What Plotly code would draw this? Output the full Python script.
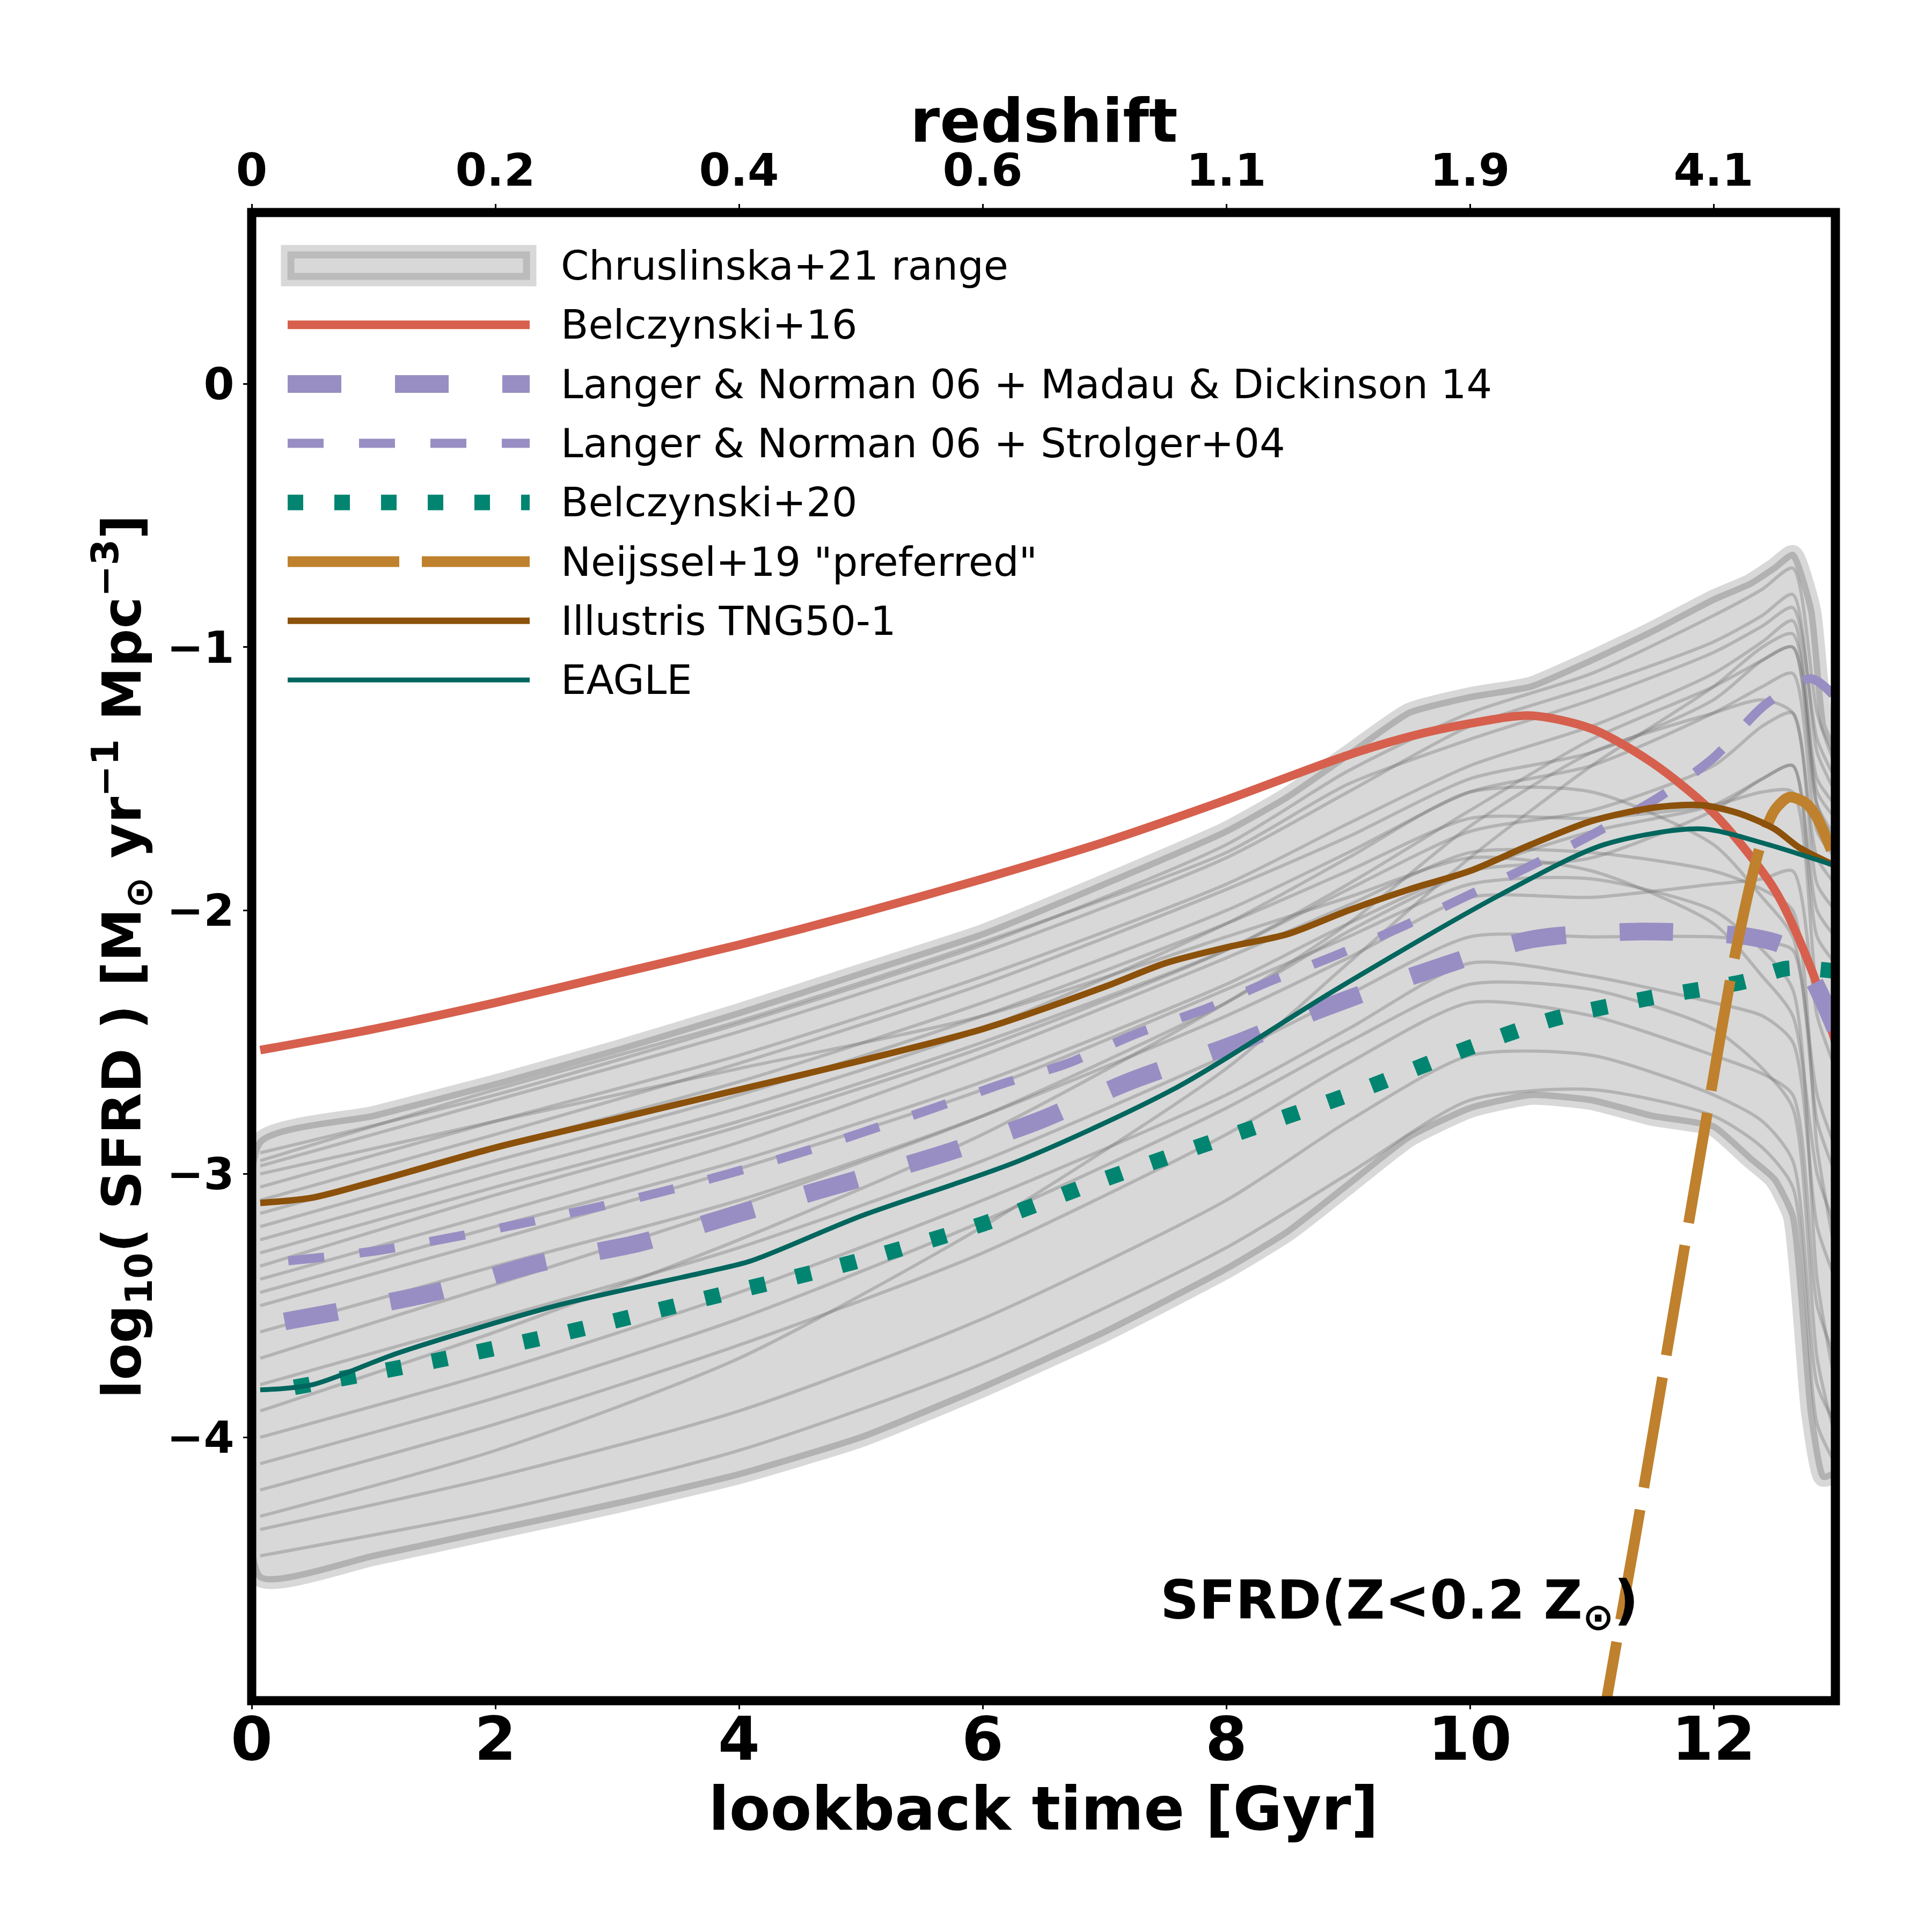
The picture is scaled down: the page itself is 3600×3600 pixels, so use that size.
import plotly.graph_objects as go

# axis ticks: lookback time [Gyr] and the redshift shown on the top axis
TICK_T = [0, 2, 4, 6, 8, 10, 12]
REDSHIFT_LABELS = ["0", "0.2", "0.4", "0.6", "1.1", "1.9", "4.1"]
Y_TICKS = [0, -1, -2, -3, -4]

# Chruslinska+21 range (envelope of all variations)
ENV_T = [0.07, 1, 2, 3, 4, 5, 6, 7, 8, 8.5, 9, 9.5, 10, 10.5, 11, 11.5, 12, 12.3, 12.5, 12.65, 12.8, 12.9, 13.0]
ENV_HI = [-2.88, -2.78, -2.66, -2.53, -2.39, -2.24, -2.09, -1.90, -1.70, -1.57, -1.41, -1.25, -1.19, -1.15,
          -1.05, -0.94, -0.82, -0.76, -0.70, -0.65, -0.86, -1.30, -1.41]
ENV_LO = [-4.53, -4.45, -4.35, -4.25, -4.14, -4.00, -3.81, -3.60, -3.36, -3.22, -3.04, -2.86, -2.75, -2.70,
          -2.72, -2.78, -2.82, -2.94, -3.02, -3.16, -3.91, -4.15, -4.13]

# a selection of the individual Chruslinska+21 variations
GRAY_T = [0.07, 2, 4, 6, 8, 9, 10, 11, 12, 12.4, 12.65, 12.85, 13.0]
GRAY_LINES = [
    [-2.92, -2.70, -2.43, -2.13, -1.75, -1.47, -1.25, -1.10, -0.88, -0.78, -0.70, -1.25, -1.45],
    [-2.97, -2.72, -2.46, -2.16, -1.80, -1.55, -1.30, -1.15, -0.98, -0.88, -0.80, -1.40, -1.55],
    [-3.05, -2.80, -2.55, -2.25, -1.90, -1.67, -1.45, -1.30, -1.10, -0.98, -0.90, -1.55, -1.65],
    [-3.15, -2.90, -2.65, -2.35, -2.00, -1.78, -1.55, -1.45, -1.25, -1.15, -1.10, -1.70, -1.80],
    [-3.30, -3.05, -2.80, -2.50, -2.15, -1.92, -1.70, -1.62, -1.45, -1.30, -1.25, -1.90, -2.00],
    [-3.45, -3.20, -2.95, -2.65, -2.28, -2.05, -1.85, -1.80, -1.62, -1.50, -1.45, -2.10, -2.20],
    [-3.60, -3.35, -3.10, -2.78, -2.40, -2.18, -1.95, -1.95, -1.90, -1.88, -1.85, -2.40, -2.60],
    [-3.80, -3.55, -3.28, -2.95, -2.55, -2.32, -2.10, -2.10, -2.10, -2.12, -2.15, -2.80, -3.00],
    [-4.00, -3.75, -3.45, -3.10, -2.70, -2.45, -2.20, -2.25, -2.35, -2.40, -2.50, -3.20, -3.40],
    [-4.20, -3.95, -3.65, -3.30, -2.85, -2.58, -2.35, -2.40, -2.55, -2.62, -2.70, -3.50, -3.70],
    [-4.35, -4.15, -3.90, -3.55, -3.10, -2.80, -2.55, -2.55, -2.70, -2.80, -2.95, -3.80, -3.95],
    [-4.45, -4.28, -4.05, -3.72, -3.28, -3.00, -2.72, -2.68, -2.78, -2.90, -3.05, -3.95, -4.10],
    [-4.30, -4.05, -3.70, -3.20, -2.60, -2.20, -1.80, -1.45, -1.15, -1.00, -0.95, -1.50, -1.60],
    [-3.00, -2.80, -2.60, -2.40, -2.10, -1.95, -1.80, -1.85, -2.05, -2.25, -2.40, -3.00, -3.20],
    [-3.90, -3.60, -3.25, -2.85, -2.35, -2.05, -1.68, -1.40, -1.25, -1.20, -1.25, -1.80, -1.90],
    [-3.25, -3.00, -2.75, -2.45, -2.05, -1.80, -1.55, -1.55, -1.75, -1.95, -2.10, -2.70, -2.90],
    [-2.95, -2.68, -2.42, -2.12, -1.78, -1.52, -1.35, -1.20, -1.02, -0.92, -0.85, -1.35, -1.50],
    [-3.10, -2.85, -2.58, -2.28, -1.92, -1.72, -1.50, -1.40, -1.20, -1.05, -1.00, -1.60, -1.72],
    [-3.20, -2.95, -2.70, -2.40, -2.05, -1.85, -1.65, -1.65, -1.60, -1.55, -1.55, -2.30, -2.50],
    [-3.40, -3.15, -2.88, -2.55, -2.18, -1.98, -1.78, -1.78, -1.85, -1.92, -2.00, -2.90, -3.30],
    [-3.50, -3.25, -2.98, -2.68, -2.30, -2.10, -1.90, -1.88, -2.00, -2.15, -2.30, -3.40, -3.80],
    [-3.70, -3.42, -3.12, -2.78, -2.35, -2.08, -1.85, -1.70, -1.60, -1.50, -1.45, -2.00, -2.10],
    [-4.10, -3.85, -3.55, -3.18, -2.75, -2.50, -2.28, -2.30, -2.45, -2.60, -2.75, -3.70, -4.00],
    [-3.35, -3.08, -2.82, -2.52, -2.15, -1.90, -1.62, -1.35, -1.15, -1.05, -1.00, -1.60, -1.75],
]

# Belczynski+16
B16_T = [0.07, 1, 2, 3, 4, 5, 6, 7, 8, 9, 9.5, 10, 10.5, 11, 11.5, 12, 12.5, 12.8, 13.0]
B16_Y = [-2.53, -2.45, -2.35, -2.24, -2.13, -2.01, -1.88, -1.74, -1.58, -1.41, -1.34, -1.29, -1.26, -1.31,
         -1.44, -1.63, -1.92, -2.22, -2.50]

# Langer & Norman 06 + Madau & Dickinson 14
MD14_T = [0.27, 1.5, 2.35, 3.2, 4.0, 4.9, 5.7, 6.45, 7.2, 8.05, 8.8, 9.65, 10.5, 11.4, 12.3, 12.6, 12.8, 13.0]
MD14_Y = [-3.56, -3.45, -3.34, -3.26, -3.15, -3.03, -2.92, -2.80, -2.65, -2.51, -2.37, -2.23, -2.11, -2.08,
          -2.10, -2.14, -2.25, -2.45]

# Langer & Norman 06 + Strolger+04
S04_T = [0.3, 1.05, 2.2, 3.35, 4.5, 5.6, 6.15, 6.7, 7.25, 7.85, 8.35, 8.9, 9.45, 9.95, 10.5, 11.05, 11.55,
         12.0, 12.42, 12.8, 13.0]
S04_Y = [-3.33, -3.29, -3.19, -3.07, -2.92, -2.75, -2.66, -2.58, -2.47, -2.37, -2.27, -2.17, -2.06, -1.95,
         -1.83, -1.70, -1.57, -1.42, -1.22, -1.12, -1.19]

# Belczynski+20
B20_T = [0.35, 1.5, 2.6, 3.75, 4.9, 6.0, 7.0, 8.0, 9.0, 10.0, 10.7, 11.5, 12.25, 12.6, 13.0]
B20_Y = [-3.81, -3.71, -3.60, -3.47, -3.34, -3.19, -3.02, -2.86, -2.70, -2.52, -2.41, -2.33, -2.27, -2.22, -2.23]

# Neijssel+19 "preferred"
N19_T = [10.7, 11.12, 11.35, 11.6, 12.0, 12.18, 12.38, 12.5, 12.62, 12.75, 12.84, 13.0]
N19_Y = [-6.2, -5.0, -4.40, -3.72, -2.63, -2.16, -1.76, -1.62, -1.57, -1.59, -1.64, -1.81]

# Illustris TNG50-1
TNG_T = [0.07, 0.5, 1, 2, 3, 4, 5, 6, 7, 7.5, 8, 8.5, 9, 9.5, 10, 10.5, 11, 11.5, 11.9, 12.2, 12.5, 12.7, 13.0]
TNG_Y = [-3.11, -3.09, -3.03, -2.90, -2.79, -2.68, -2.57, -2.45, -2.29, -2.20, -2.14, -2.09, -2.00, -1.92,
         -1.85, -1.75, -1.66, -1.61, -1.60, -1.63, -1.69, -1.76, -1.83]

# EAGLE
EAGLE_T = [0.07, 0.5, 1.2, 2.5, 3.75, 4.1, 5, 6.3, 7.6, 8.9, 10.25, 11.1, 11.9, 12.45, 12.8, 13.0]
EAGLE_Y = [-3.82, -3.80, -3.68, -3.50, -3.37, -3.33, -3.16, -2.95, -2.67, -2.30, -1.94, -1.75, -1.69, -1.75,
           -1.80, -1.83]

NAMES = ["Chruslinska+21 range", "Belczynski+16", "Langer &amp; Norman 06 + Madau &amp; Dickinson 14",
         "Langer &amp; Norman 06 + Strolger+04", "Belczynski+20", 'Neijssel+19 "preferred"',
         "Illustris TNG50-1", "EAGLE"]

# styles (colour, width px, dash)
STYLES = [
    None,
    ("#d6604d", 16, "solid"),
    ("#998ec3", 33, "100px,100px"),
    ("#998ec3", 17, "67px,66px"),
    ("#018571", 29, "29px,58px"),
    ("#bf812d", 20, "208px,42px"),
    ("#8c510a", 12, "solid"),
    ("#01665e", 9, "solid"),
]

FONT = "DejaVu Sans"
OFF = 8  # default body margin of the page
W = H = 3600 - OFF
L, R, T, B = 469, 3420, 396, 3169  # plot box in screen pixels


def px_x(p):
    return (p - L) / (R - L)


def px_y(p):
    return (B - p) / (B - T)


fig = go.Figure()

# band
band_x = ENV_T + ENV_T[::-1] + [ENV_T[0]]
band_y = ENV_HI + ENV_LO[::-1] + [ENV_HI[0]]
fig.add_trace(go.Scatter(x=band_x, y=band_y, mode="lines", fill="toself", fillcolor="rgb(216,216,216)",
                         line=dict(color="rgb(216,216,216)", width=37, shape="spline", smoothing=0.5),
                         hoverinfo="skip", showlegend=False))
fig.add_trace(go.Scatter(x=band_x, y=band_y, mode="lines",
                         line=dict(color="rgb(178,178,178)", width=12, shape="spline", smoothing=0.5),
                         hoverinfo="skip", showlegend=False))
for g in GRAY_LINES:
    fig.add_trace(go.Scatter(x=GRAY_T, y=g, mode="lines",
                             line=dict(color="rgba(115,115,115,0.36)", width=6, shape="spline", smoothing=0.7),
                             hoverinfo="skip", showlegend=False))

curves = [(B16_T, B16_Y), (MD14_T, MD14_Y), (S04_T, S04_Y), (B20_T, B20_Y), (N19_T, N19_Y),
          (TNG_T, TNG_Y), (EAGLE_T, EAGLE_Y)]
for (xs, ys), st, name in zip(curves, STYLES[1:], NAMES[1:]):
    col, wid, dash = st
    fig.add_trace(go.Scatter(x=xs, y=ys, mode="lines", name=name,
                             line=dict(color=col, width=wid, dash=dash, shape="spline", smoothing=0.8),
                             showlegend=False))

# dummy trace for the redshift axis
fig.add_trace(go.Scatter(x=[0, 13], y=[-5, -5], xaxis="x2", mode="lines", opacity=0,
                         hoverinfo="skip", showlegend=False))

shapes = [dict(type="rect", xref="paper", yref="paper", x0=0, x1=1, y0=0, y1=1,
               line=dict(color="black", width=17), layer="above")]
annotations = []

# legend drawn by hand (handles are long in the original)
row0, dy = 495, 110.3
hx0, hx1 = 536, 987
for i, (name, st) in enumerate(zip(NAMES, STYLES)):
    yc = row0 + i * dy
    if st is None:
        for lw, col in ((37, "rgb(216,216,216)"), (13, "rgb(187,187,187)")):
            shapes.append(dict(type="rect", xref="paper", yref="paper",
                               x0=px_x(hx0 + 6), x1=px_x(hx1 - 6), y0=px_y(yc - 20), y1=px_y(yc + 20),
                               fillcolor="rgb(216,216,216)", line=dict(color=col, width=lw), layer="above"))
    else:
        col, wid, dash = st
        shapes.append(dict(type="line", xref="paper", yref="paper", x0=px_x(hx0), x1=px_x(hx1),
                           y0=px_y(yc), y1=px_y(yc), line=dict(color=col, width=wid, dash=dash),
                           layer="above"))
    annotations.append(dict(text=name, xref="paper", yref="paper", x=px_x(1043), y=px_y(yc),
                            xanchor="left", yanchor="middle", showarrow=False,
                            font=dict(family=FONT, size=75, color="black")))

annotations.append(dict(text="SFRD(Z&lt;0.2 Z<sub>⊙</sub>)", xref="paper", yref="paper",
                        x=px_x(2160), y=px_y(2988), xanchor="left", yanchor="middle", showarrow=False,
                        font=dict(family=FONT, size=100, color="black", weight="bold")))

# top axis title
annotations.append(dict(text="redshift", xref="paper", yref="paper", x=0.5, y=px_y(225),
                        xanchor="center", yanchor="middle", showarrow=False,
                        font=dict(family=FONT, size=112, color="black", weight="bold")))

axis_common = dict(showgrid=False, zeroline=False, showline=False, ticks="outside", ticklen=15,
                   tickwidth=3, tickcolor="black")

fig.update_layout(
    width=W, height=H,
    margin=dict(l=L - OFF, r=W + OFF - R, t=T - OFF, b=H + OFF - B),
    paper_bgcolor="white", plot_bgcolor="white",
    showlegend=False,
    xaxis=dict(range=[0, 13], tickvals=TICK_T, ticklabelstandoff=-40,
               tickfont=dict(family=FONT, size=112, color="black", weight="bold"),
               title=dict(text="lookback time [Gyr]", standoff=25,
                          font=dict(family=FONT, size=112, color="black", weight="bold")),
               **axis_common),
    xaxis2=dict(range=[0, 13], overlaying="x", side="top", tickvals=TICK_T, ticktext=REDSHIFT_LABELS,
                tickfont=dict(family=FONT, size=84, color="black", weight="bold"),
                **axis_common),
    yaxis=dict(range=[-5, 0.65], tickvals=Y_TICKS,
               tickfont=dict(family=FONT, size=82, color="black", weight="bold"),
               title=dict(text="log<sub>10</sub>( SFRD ) [M<sub>⊙</sub> yr<sup>−1</sup> Mpc<sup>−3</sup>]",
                          standoff=14, font=dict(family=FONT, size=100, color="black", weight="bold")),
               **axis_common),
    shapes=shapes,
    annotations=annotations,
)

fig.write_html("out.html")
